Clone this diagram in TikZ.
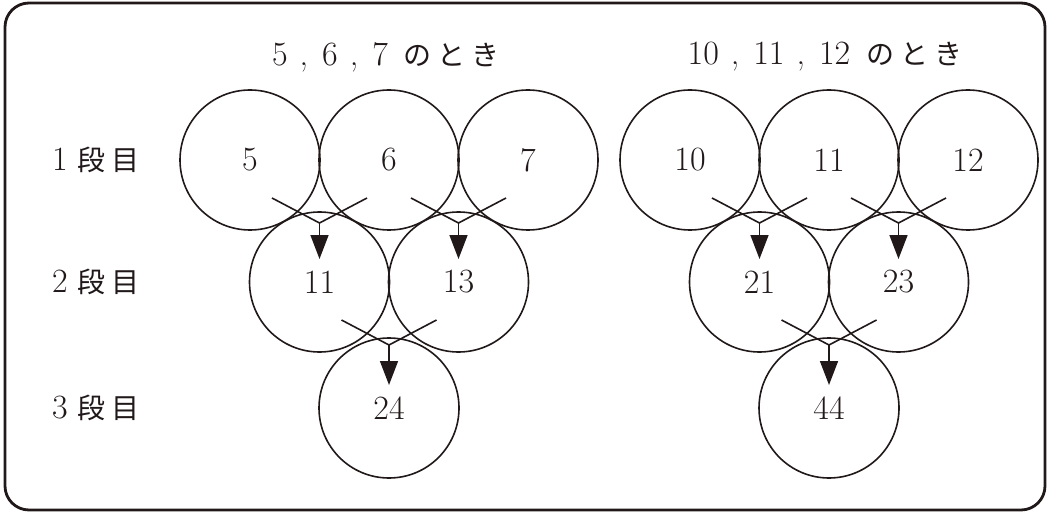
\documentclass[tikz,border=0pt]{standalone}
\usepackage{fontspec}
\newfontfamily\jafont{Noto Sans CJK JP}
\usetikzlibrary{arrows.meta}
\definecolor{InkClr}{rgb}{0.13,0.10,0.10}

\begin{document}
\begin{tikzpicture}[x=0.5pt,y=-0.5pt,
  ball/.style={circle,draw=InkClr,line width=0.8pt,minimum size=70pt,inner sep=0pt,
    text=InkClr,font=\fontsize{17}{20}\selectfont\addfontfeatures{FakeBold=0.6}},
  feed/.style={draw=InkClr,line width=0.8pt},
  lbl/.style={text=InkClr,font=\fontsize{17}{20}\selectfont\addfontfeatures{FakeBold=0.6}}]
\useasboundingbox (0,0) rectangle (1048,513);
\draw[InkClr,line width=1.4pt,rounded corners=12pt] (5,3) rectangle (1045,510);

% row labels
\foreach \r/\y in {1/160,2/282,3/408}
  \node[lbl] (row\r) at (96,\y) {\r\kern5pt{\jafont\fontsize{14}{18}\selectfont 段\kern3pt 目}};

% titles
\node[lbl] (titleL) at (386,57) {5\kern6pt,\kern7pt 6\kern6pt,\kern7pt 7\kern8pt{\jafont\fontsize{14}{18}\selectfont の\kern3pt と\kern3pt き}};
\node[lbl] (titleR) at (825,57) {10\kern6pt,\kern7pt 11\kern6pt,\kern7pt 12\kern8pt{\jafont\fontsize{14}{18}\selectfont の\kern3pt と\kern3pt き}};

\foreach \g/\o/\a/\b/\c/\d/\e/\f in {L/0/5/6/7/11/13/24, R/440/10/11/12/21/23/44} {
  \node[ball] (\g-1-1) at (250+\o,160) {\a};
  \node[ball] (\g-1-2) at (389+\o,160) {\b};
  \node[ball] (\g-1-3) at (528+\o,160) {\c};
  \node[ball] (\g-2-1) at (319.5+\o,282) {\d};
  \node[ball] (\g-2-2) at (458.5+\o,282) {\e};
  \node[ball] (\g-3-1) at (389+\o,408) {\f};

  \coordinate (\g-j1) at (319.5+\o,223);
  \coordinate (\g-j2) at (458.5+\o,223);
  \coordinate (\g-j3) at (389+\o,345);

  \draw[feed] ([shift={(22,38)}]\g-1-1.center) -- (\g-j1) -- ([shift={(-22,38)}]\g-1-2.center);
  \draw[feed] ([shift={(22,38)}]\g-1-2.center) -- (\g-j2) -- ([shift={(-22,38)}]\g-1-3.center);
  \draw[feed] ([shift={(22,38)}]\g-2-1.center) -- (\g-j3) -- ([shift={(-22,38)}]\g-2-2.center);

  \draw[feed,-{Triangle[length=12pt,width=9pt]}] (\g-j1) -- ([shift={(0,-23)}]\g-2-1.center);
  \draw[feed,-{Triangle[length=12pt,width=9pt]}] (\g-j2) -- ([shift={(0,-23)}]\g-2-2.center);
  \draw[feed,-{Triangle[length=12pt,width=9pt]}] (\g-j3) -- ([shift={(0,-23)}]\g-3-1.center);
}
\end{tikzpicture}
\end{document}
